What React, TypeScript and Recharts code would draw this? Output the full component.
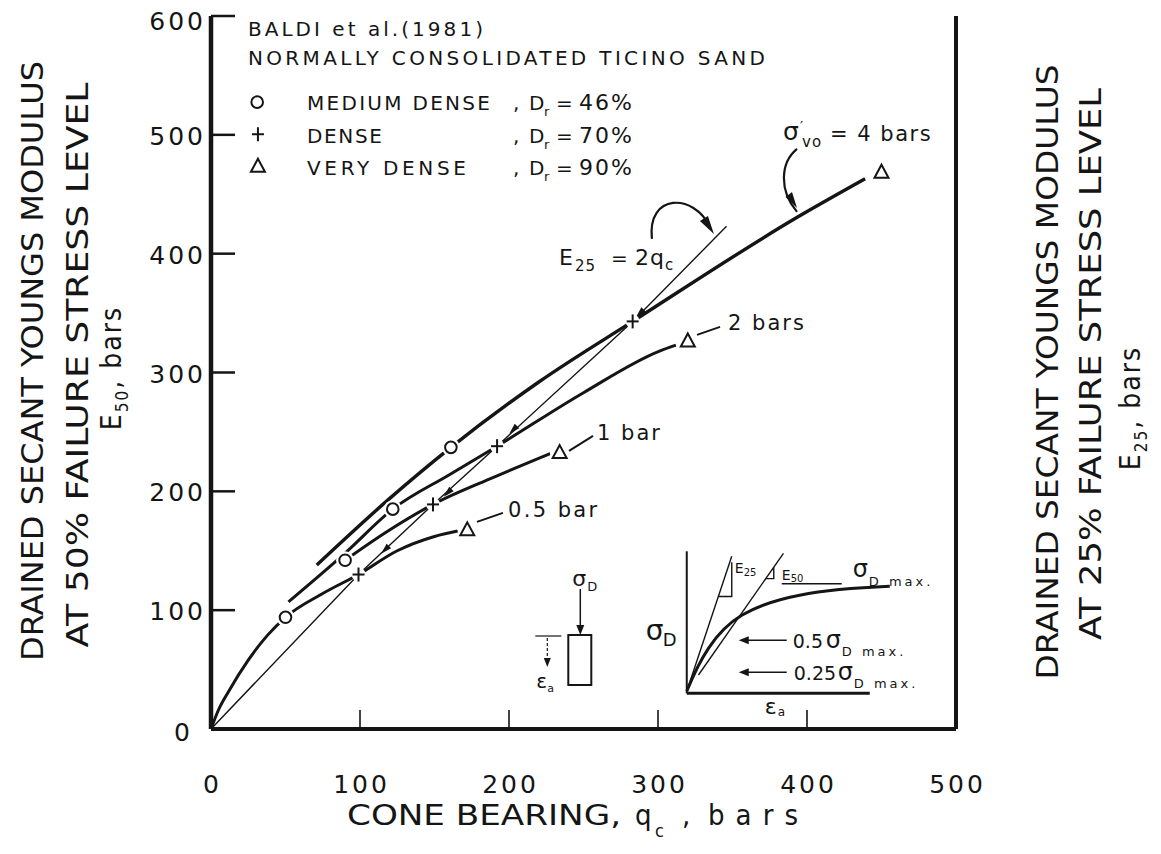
import React from 'react';
import { ComposedChart, Line, Scatter, XAxis, YAxis, ReferenceDot, Label } from 'recharts';

const INK = '#151515';
const FONT = "'DejaVu Sans', 'Liberation Sans', Arial, sans-serif";
const COND = "'DejaVu Sans Condensed', 'Liberation Sans Narrow', 'DejaVu Sans', sans-serif";

// ---------- axis ticks ----------
const xTicks = [0, 100, 200, 300, 400, 500];
const leftTicks = [0, 100, 200, 300, 400, 500, 600];
const rightTicks = [0, 150, 300, 450, 600, 750, 900];

// ---------- curves: cone bearing qc (bars) vs E50 (bars) ----------
const curve4bar = [
  { x: 71, y: 138 }, { x: 119, y: 193 }, { x: 161, y: 237 }, { x: 220, y: 292 },
  { x: 283, y: 343 }, { x: 394, y: 431 }, { x: 439, y: 463 },
];
const curve2bar = [
  { x: 52, y: 107 }, { x: 90, y: 148 }, { x: 122, y: 185 }, { x: 160, y: 214 },
  { x: 192, y: 238 }, { x: 250, y: 283 }, { x: 301, y: 318 }, { x: 312, y: 323 },
];
const curve1bar = [
  { x: 90, y: 142 }, { x: 118, y: 166 }, { x: 149, y: 189 }, { x: 190, y: 212 }, { x: 228, y: 232 },
];
const curve05bar = [
  { x: 0, y: 0 }, { x: 5, y: 16 }, { x: 12, y: 32 }, { x: 25, y: 58 }, { x: 38, y: 79 },
  { x: 50, y: 94 }, { x: 75, y: 114 }, { x: 99, y: 130 }, { x: 125, y: 150 },
  { x: 150, y: 162 }, { x: 167, y: 167 },
];
const lineE25 = [
  { x: 0, y: 0 }, { x: 99, y: 130 }, { x: 149, y: 189 }, { x: 192, y: 238 },
  { x: 283, y: 343 }, { x: 346, y: 423 },
];
const e25Arrows = [
  { x: 117, y: 151 }, { x: 159, y: 199 }, { x: 203, y: 252 }, { x: 288, y: 350 },
];

// ---------- test points ----------
const mediumDense = [{ x: 50, y: 94 }, { x: 90, y: 142 }, { x: 122, y: 185 }, { x: 161, y: 237 }];
const dense = [{ x: 99, y: 130 }, { x: 149, y: 189 }, { x: 192, y: 238 }, { x: 283, y: 343 }];
const veryDense = [{ x: 172, y: 168 }, { x: 234, y: 233 }, { x: 320, y: 327 }, { x: 450, y: 469 }];

// ---------- marker shapes ----------
const circleShape = (p: any) => (
  <g>
    <circle cx={p.cx} cy={p.cy} r={9} fill="#fff" />
    <circle cx={p.cx} cy={p.cy} r={5.8} fill="#fff" stroke={INK} strokeWidth={2} />
  </g>
);
const plusShape = (p: any) => (
  <g stroke={INK} strokeWidth={2}>
    <circle cx={p.cx} cy={p.cy} r={7} fill="#fff" stroke="none" />
    <line x1={p.cx - 6} x2={p.cx + 6} y1={p.cy} y2={p.cy} />
    <line x1={p.cx} x2={p.cx} y1={p.cy - 7} y2={p.cy + 7} />
  </g>
);
const triShape = (p: any) => (
  <g>
    <circle cx={p.cx} cy={p.cy} r={10} fill="#fff" />
    <path d={`M${p.cx} ${p.cy - 7} L${p.cx + 7} ${p.cy + 6} L${p.cx - 7} ${p.cy + 6} Z`} fill="#fff" stroke={INK} strokeWidth={2} />
  </g>
);
const arrowShape = (p: any) => (
  <path transform={`translate(${p.cx},${p.cy}) rotate(-45)`} d="M-6 0 L5 -3.2 L5 3.2 Z" fill={INK} />
);

// ---------- ticks ----------
const LeftTick = (p: any) => {
  const v = p.payload.value;
  const ax = p.x + 8;
  const dy = v === 600 ? 14 : v === 0 ? 12 : 10;
  return (
    <g>
      {v !== 0 && <line x1={ax} x2={ax + 24} y1={p.y} y2={p.y} stroke={INK} strokeWidth={2.5} />}
      <text x={v === 0 ? ax - 18 : ax - 5} y={p.y + dy} textAnchor="end" fontFamily={FONT} fontSize={25} letterSpacing={3} fill={INK}>{v}</text>
    </g>
  );
};
const RightTick = (p: any) => {
  const v = p.payload.value;
  const ax = p.x - 8;
  const dy = v === 900 ? 15 : v === 0 ? 15 : 10;
  return (
    <g>
      {v !== 0 && <line x1={ax} x2={ax - 17} y1={p.y} y2={p.y} stroke={INK} strokeWidth={2.5} />}
      <text x={ax + 9} y={p.y + dy} textAnchor="start" fontFamily={FONT} fontSize={25} letterSpacing={3} fill={INK}>{v}</text>
    </g>
  );
};
const BottomTick = (p: any) => {
  const v = p.payload.value;
  return (
    <g>
      {v !== 0 && v !== 500 && <line x1={p.x} x2={p.x} y1={p.y} y2={p.y - 19} stroke={INK} strokeWidth={1.6} />}
      <text x={p.x + 1.5} y={p.y + 64} textAnchor="middle" fontFamily={FONT} fontSize={25} letterSpacing={3} fill={INK}>{v}</text>
    </g>
  );
};

// ---------- axis titles ----------
const LeftTitle = () => (
  <g fontFamily={COND} fill={INK}>
    <text transform="translate(35,353) rotate(-90)" textAnchor="middle" fontSize={31} textLength={600} lengthAdjust="spacingAndGlyphs">DRAINED SECANT YOUNGS MODULUS</text>
    <text transform="translate(80,357) rotate(-90)" textAnchor="middle" fontSize={31} textLength={565} lengthAdjust="spacingAndGlyphs">AT 50% FAILURE STRESS LEVEL</text>
    <text transform="translate(113,360) rotate(-90)" textAnchor="middle" fontSize={28} letterSpacing={2}>
      E<tspan fontSize={17} dy={7}>50</tspan><tspan dy={-7}>, bars</tspan>
    </text>
  </g>
);
const RightTitle = () => (
  <g fontFamily={COND} fill={INK}>
    <text transform="translate(1050,364) rotate(-90)" textAnchor="middle" fontSize={31} textLength={615} lengthAdjust="spacingAndGlyphs">DRAINED SECANT YOUNGS MODULUS</text>
    <text transform="translate(1093,356) rotate(-90)" textAnchor="middle" fontSize={31} textLength={552} lengthAdjust="spacingAndGlyphs">AT 25% FAILURE STRESS LEVEL</text>
    <text transform="translate(1132,400) rotate(-90)" textAnchor="middle" fontSize={28} letterSpacing={2}>
      E<tspan fontSize={17} dy={7}>25</tspan><tspan dy={-7}>, bars</tspan>
    </text>
  </g>
);
const BottomTitle = () => (
  <g fontFamily={COND} fill={INK} fontSize={29}>
    <text x={339} y={817} textLength={274} lengthAdjust="spacingAndGlyphs">CONE BEARING,</text>
    <text x={627} y={817}>q</text>
    <text x={647} y={829} fontSize={18}>c</text>
    <text x={674} y={817}>,</text>
    <text x={700} y={817} textLength={90} lengthAdjust="spacing">bars</text>
  </g>
);

// ---------- annotation helper (anchored in data coordinates) ----------
const ann = (key: string, x: number, y: number, draw: (cx: number, cy: number) => React.ReactNode) => (
  <ReferenceDot key={key} x={x} y={y} yAxisId="l" r={0} fill="none" stroke="none"
    shape={(p: any) => <g fontFamily={FONT} fill={INK}>{draw(p.cx, p.cy)}</g>} />
);

const legendRow = (key: string, y: number, name: string, nameLen: number, pct: string) =>
  ann(key, 64.4, y, (cx, cy) => (
    <g>
      <text x={cx} y={cy} fontSize={20} textLength={nameLen} lengthAdjust="spacing">{name}</text>
      <text x={cx + 206} y={cy} fontSize={20}>,</text>
      <text x={cx + 222} y={cy} fontSize={20}>D</text>
      <text x={cx + 237} y={cy + 6} fontSize={13}>r</text>
      <text x={cx + 249} y={cy} fontSize={20}>=</text>
      <text x={cx + 272} y={cy} fontSize={22} letterSpacing={2}>{pct}</text>
    </g>
  ));

export default function App() {
  return (
    <div style={{ width: 1145, height: 838, background: '#fff' }}>
      <ComposedChart width={1145} height={838} margin={{ top: 8, right: 107, bottom: 57, left: 113 }}>
        <XAxis type="number" dataKey="x" domain={[0, 500]} ticks={xTicks} height={60}
          axisLine={{ stroke: INK, strokeWidth: 4 }} tickLine={false} tickSize={0} tickMargin={0}
          tick={<BottomTick />} interval={0}>
          <Label content={() => <BottomTitle />} />
        </XAxis>
        <YAxis yAxisId="l" type="number" dataKey="y" domain={[0, 600]} ticks={leftTicks} width={90}
          axisLine={{ stroke: INK, strokeWidth: 4.5 }} tickLine={false} tickSize={0} tickMargin={8}
          tick={<LeftTick />} interval={0}>
          <Label content={() => <LeftTitle />} />
        </YAxis>
        <YAxis yAxisId="r" orientation="right" type="number" domain={[0, 900]} ticks={rightTicks} width={90}
          axisLine={{ stroke: INK, strokeWidth: 4 }} tickLine={false} tickSize={0} tickMargin={8}
          tick={<RightTick />} interval={0}>
          <Label content={() => <RightTitle />} />
        </YAxis>

        <Line yAxisId="l" data={lineE25} dataKey="y" type="linear" stroke={INK} strokeWidth={1.4} dot={false} isAnimationActive={false} />
        <Line yAxisId="l" data={curve05bar} dataKey="y" type="monotone" stroke={INK} strokeWidth={3} dot={false} isAnimationActive={false} />
        <Line yAxisId="l" data={curve1bar} dataKey="y" type="monotone" stroke={INK} strokeWidth={3} dot={false} isAnimationActive={false} />
        <Line yAxisId="l" data={curve2bar} dataKey="y" type="monotone" stroke={INK} strokeWidth={3} dot={false} isAnimationActive={false} />
        <Line yAxisId="l" data={curve4bar} dataKey="y" type="monotone" stroke={INK} strokeWidth={3.4} dot={false} isAnimationActive={false} />

        <Scatter yAxisId="l" data={e25Arrows} shape={arrowShape} isAnimationActive={false} />
        <Scatter yAxisId="l" data={mediumDense} shape={circleShape} isAnimationActive={false} />
        <Scatter yAxisId="l" data={dense} shape={plusShape} isAnimationActive={false} />
        <Scatter yAxisId="l" data={veryDense} shape={triShape} isAnimationActive={false} />

        {/* heading and legend */}
        {ann('baldi', 24.8, 583.3, (cx, cy) => (
          <text x={cx} y={cy} fontSize={20} textLength={235} lengthAdjust="spacing">BALDI et al.(1981)</text>
        ))}
        {ann('nc', 24.8, 558.9, (cx, cy) => (
          <text x={cx} y={cy} fontSize={20} textLength={517} lengthAdjust="spacing">NORMALLY CONSOLIDATED TICINO SAND</text>
        ))}
        <ReferenceDot yAxisId="l" x={31} y={527.5} r={0} shape={circleShape} />
        <ReferenceDot yAxisId="l" x={31.5} y={500.5} r={0} shape={plusShape} />
        <ReferenceDot yAxisId="l" x={31.5} y={474} r={0} shape={triShape} />
        {legendRow('r1', 521.0, 'MEDIUM DENSE', 183, '46%')}
        {legendRow('r2', 493.3, 'DENSE', 75, '70%')}
        {legendRow('r3', 466.3, 'VERY DENSE', 159, '90%')}

        {/* sigma'vo = 4 bars with curved arrow */}
        {ann('s4', 381.9, 494.9, (cx, cy) => (
          <g>
            <text x={cx + 3} y={cy - 1} fontSize={25}>σ<tspan fontSize={14} dx={1} dy={-9}>′</tspan></text>
            <text x={cx + 22} y={cy + 6} fontSize={15} letterSpacing={1}>vo</text>
            <text x={cx + 50} y={cy} fontSize={21} letterSpacing={1.5}>= 4 bars</text>
            <path d={`M${cx + 17} ${cy + 8} C${cx} ${cy + 22} ${cx - 1} ${cy + 50} ${cx + 17} ${cy + 71}`} fill="none" stroke={INK} strokeWidth={2.2} />
            <path d={`M${cx + 17} ${cy + 67} L${cx + 5.5} ${cy + 56} L${cx + 12} ${cy + 51} Z`} fill={INK} />
          </g>
        ))}

        {/* E25 = 2qc with curved arrow */}
        {ann('e25', 233.5, 390.5, (cx, cy) => (
          <g>
            <text x={cx} y={cy} fontSize={22}>E</text>
            <text x={cx + 16} y={cy + 6} fontSize={15} letterSpacing={1}>25</text>
            <text x={cx + 52} y={cy} fontSize={20}>=</text>
            <text x={cx + 76} y={cy} fontSize={22} letterSpacing={1}>2q</text>
            <text x={cx + 106} y={cy + 5} fontSize={15}>c</text>
            <path d={`M${cx + 93} ${cy - 26} C${cx + 88} ${cy - 72} ${cx + 135} ${cy - 72} ${cx + 151} ${cy - 38}`} fill="none" stroke={INK} strokeWidth={2.2} />
            <path d={`M${cx + 155} ${cy - 31} L${cx + 141} ${cy - 44} L${cx + 149} ${cy - 49} Z`} fill={INK} />
          </g>
        ))}

        {/* pressure labels */}
        {ann('l2', 347.0, 335.9, (cx, cy) => (
          <g>
            <line x1={cx - 31} y1={cy + 5} x2={cx - 8} y2={cy - 3} stroke={INK} strokeWidth={2} />
            <text x={cx} y={cy} fontSize={21} letterSpacing={2}>2 bars</text>
          </g>
        ))}
        {ann('l1', 259.1, 243.3, (cx, cy) => (
          <g>
            <line x1={cx - 28} y1={cy + 11} x2={cx - 4} y2={cy - 4} stroke={INK} strokeWidth={2} />
            <text x={cx} y={cy} fontSize={21} letterSpacing={2}>1 bar</text>
          </g>
        ))}
        {ann('l05', 199.3, 178.5, (cx, cy) => (
          <g>
            <line x1={cx - 31} y1={cy + 5} x2={cx - 5} y2={cy - 4} stroke={INK} strokeWidth={2} />
            <text x={cx} y={cy} fontSize={21} letterSpacing={2.4}>0.5 bar</text>
          </g>
        ))}

        {/* specimen sketch */}
        {ann('spec', 239.8, 79.1, (cx, cy) => (
          <g>
            <rect x={cx} y={cy} width={23} height={50} fill="none" stroke={INK} strokeWidth={2} />
            <line x1={cx + 12} y1={cy - 46} x2={cx + 12} y2={cy - 6} stroke={INK} strokeWidth={1.5} />
            <path d={`M${cx + 12} ${cy} L${cx + 8} ${cy - 10} L${cx + 16} ${cy - 10} Z`} fill={INK} />
            <line x1={cx - 33} y1={cy + 1} x2={cx - 7} y2={cy + 1} stroke={INK} strokeWidth={1.2} />
            <line x1={cx - 21} y1={cy + 3} x2={cx - 21} y2={cy + 25} stroke={INK} strokeWidth={1.2} strokeDasharray="3 2" />
            <path d={`M${cx - 21} ${cy + 32} L${cx - 24.5} ${cy + 23} L${cx - 17.5} ${cy + 23} Z`} fill={INK} />
            <text x={cx + 4} y={cy - 49} fontSize={22}>σ</text>
            <text x={cx + 19} y={cy - 44} fontSize={13}>D</text>
            <text x={cx - 32} y={cy + 53} fontSize={20}>ε</text>
            <text x={cx - 21} y={cy + 57} fontSize={11}>a</text>
          </g>
        ))}

        {/* stress-strain inset */}
        {ann('inset', 319.3, 30.05, (cx, cy) => (
          <g>
            <line x1={cx} y1={cy - 142} x2={cx} y2={cy} stroke={INK} strokeWidth={2} />
            <line x1={cx} y1={cy} x2={cx + 183} y2={cy} stroke={INK} strokeWidth={3} />
            <path d={`M${cx} ${cy - 2} C${cx + 12} ${cy - 32} ${cx + 28} ${cy - 62} ${cx + 55} ${cy - 78} C${cx + 85} ${cy - 96} ${cx + 130} ${cy - 104} ${cx + 203} ${cy - 107}`} fill="none" stroke={INK} strokeWidth={3} />
            <line x1={cx} y1={cy - 2} x2={cx + 45} y2={cy - 137} stroke={INK} strokeWidth={1.4} />
            <path d={`M${cx + 31.7} ${cy - 96.8} L${cx + 45} ${cy - 96.8} L${cx + 45} ${cy - 131}`} fill="none" stroke={INK} strokeWidth={1.4} />
            <line x1={cx + 11.7} y1={cy - 18.3} x2={cx + 96.7} y2={cy - 140} stroke={INK} strokeWidth={1.4} />
            <path d={`M${cx + 79} ${cy - 114.7} L${cx + 87} ${cy - 114.7} L${cx + 87} ${cy - 126}`} fill="none" stroke={INK} strokeWidth={1.4} />
            <text x={cx - 41} y={cy - 53} fontSize={28}>σ</text>
            <text x={cx - 24} y={cy - 47} fontSize={18}>D</text>
            <text x={cx + 48} y={cy - 120} fontSize={14}>E</text>
            <text x={cx + 57} y={cy - 117} fontSize={10}>25</text>
            <text x={cx + 95} y={cy - 113} fontSize={14}>E</text>
            <text x={cx + 104} y={cy - 111} fontSize={10}>50</text>
            <line x1={cx + 95} y1={cy - 109.5} x2={cx + 155} y2={cy - 109.5} stroke={INK} strokeWidth={1.6} />
            <text x={cx + 166} y={cy - 116} fontSize={24}>σ</text>
            <text x={cx + 182} y={cy - 107} fontSize={13} letterSpacing={3}>D max.</text>
            <line x1={cx + 58} y1={cy - 53} x2={cx + 100} y2={cy - 53} stroke={INK} strokeWidth={1.6} />
            <path d={`M${cx + 52} ${cy - 53} L${cx + 62} ${cy - 57} L${cx + 62} ${cy - 49} Z`} fill={INK} />
            <text x={cx + 106} y={cy - 45} fontSize={19}>0.5</text>
            <text x={cx + 139} y={cy - 45} fontSize={24}>σ</text>
            <text x={cx + 155} y={cy - 37} fontSize={13} letterSpacing={3}>D max.</text>
            <line x1={cx + 58} y1={cy - 21} x2={cx + 100} y2={cy - 21} stroke={INK} strokeWidth={1.6} />
            <path d={`M${cx + 52} ${cy - 21} L${cx + 62} ${cy - 25} L${cx + 62} ${cy - 17} Z`} fill={INK} />
            <text x={cx + 107} y={cy - 13} fontSize={19}>0.25</text>
            <text x={cx + 151} y={cy - 13} fontSize={24}>σ</text>
            <text x={cx + 167} y={cy - 5} fontSize={13} letterSpacing={3}>D max.</text>
            <text x={cx + 78} y={cy + 21} fontSize={22}>ε</text>
            <text x={cx + 91} y={cy + 23} fontSize={12}>a</text>
          </g>
        ))}
      </ComposedChart>
    </div>
  );
}
